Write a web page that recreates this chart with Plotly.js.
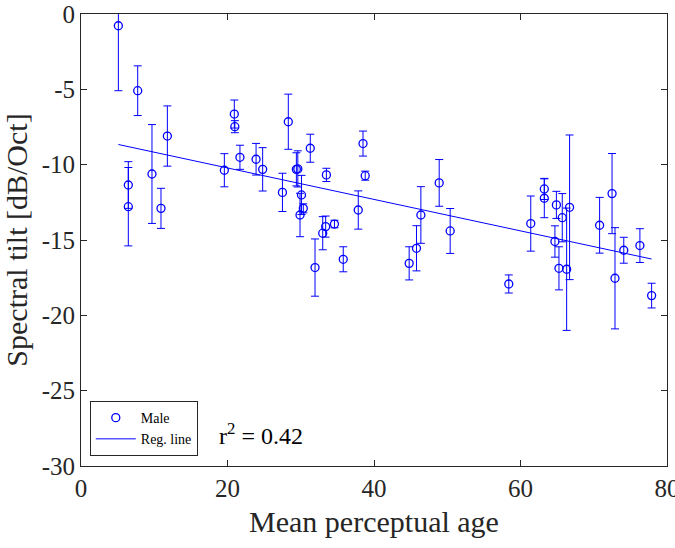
<!DOCTYPE html>
<html>
<head>
<meta charset="utf-8">
<script src="https://cdn.plot.ly/plotly-3.0.1.min.js"></script>
<style>
  html, body { margin: 0; padding: 0; background: #fff; }
  #chart { width: 675px; height: 548px; }
</style>
</head>
<body>
<div id="chart"></div>
<script>
// Mean perceptual age of each male speaker
const perceptualAge = [
  5.1, 7.74, 6.46, 6.46, 9.69, 10.92, 11.79, 19.57, 20.93, 21.0,
  21.7, 23.9, 24.8, 27.5, 28.3, 29.4, 29.6, 30.1, 30.35, 29.9,
  31.3, 31.95, 33.0, 33.4, 34.6, 33.5, 35.8, 37.85, 38.5, 38.8,
  48.9, 46.4, 45.8, 44.8, 50.4, 58.4, 61.4, 63.25, 63.25, 64.9,
  65.7, 64.7, 65.25, 66.3, 66.7, 70.8, 72.5, 72.9, 74.1, 76.3,
  77.9
];

// Spectral tilt in dB/Oct
const spectralTilt = [
  -0.78, -5.09, -11.35, -12.79, -10.62, -12.9, -8.1, -10.37, -6.64, -7.48,
  -9.51, -9.64, -10.31, -11.84, -7.15, -10.31, -10.28, -12.01, -12.9, -13.34,
  -8.91, -16.83, -14.55, -14.11, -13.94, -10.68, -16.28, -13.01, -8.6, -10.73,
  -11.21, -13.34, -15.55, -16.55, -14.4, -17.92, -13.91, -11.61, -12.23, -12.67,
  -13.52, -15.1, -16.88, -16.94, -12.83, -14.02, -11.92, -17.54, -15.68, -15.37,
  -18.69
];

// Error bar half-lengths (dB/Oct)
const tiltError = [
  4.31, 1.65, 1.55, 2.6, 3.28, 1.33, 2.0, 1.1, 0.93, 0.4,
  0.8, 1.05, 1.44, 1.27, 1.83, 1.1, 1.2, 1.3, 0.3, 1.44,
  0.93, 1.9, 1.1, 0.7, 0.25, 0.44, 0.83, 1.27, 0.83, 0.3,
  1.55, 1.88, 1.5, 1.1, 1.49, 0.6, 1.83, 0.7, 1.29, 0.9,
  1.6, 1.04, 1.43, 4.06, 4.8, 1.85, 2.66, 3.36, 0.86, 1.12,
  0.82
];

// Axis tick labels
const xTicks = [0, 20, 40, 60, 80];
const xTickText = ['0', '20', '40', '60', '80'];
const yTicks = [-30, -25, -20, -15, -10, -5, 0];
const yTickText = ['-30', '-25', '-20', '-15', '-10', '-5', '0'];

// Linear regression of tilt on perceptual age
const regIntercept = -8.13;
const regSlope = -0.1044;
const rSquared = 0.42;

const xMin = Math.min(...perceptualAge);
const xMax = Math.max(...perceptualAge);
const regX = [xMin, xMax];
const regY = regX.map(v => regIntercept + regSlope * v);

const blue = '#0000ff';
const serif = 'Liberation Serif';
const axisColor = '#262626';

const traces = [
  {
    type: 'scatter',
    mode: 'markers',
    name: 'Male',
    x: perceptualAge,
    y: spectralTilt,
    marker: { symbol: 'circle-open', size: 8, color: blue, line: { width: 1.3, color: blue } },
    error_y: { type: 'data', array: tiltError, visible: true, color: blue, thickness: 1, width: 4 }
  },
  {
    type: 'scatter',
    mode: 'lines',
    name: 'Reg. line',
    x: regX,
    y: regY,
    line: { color: blue, width: 1 }
  }
];

const layout = {
  width: 675,
  height: 548,
  margin: { l: 81, r: 8, t: 14, b: 82 },
  paper_bgcolor: '#fff',
  plot_bgcolor: '#fff',
  font: { family: serif, size: 24, color: axisColor },
  showlegend: true,
  legend: {
    x: 0.015, y: 0.022, xanchor: 'left', yanchor: 'bottom',
    bgcolor: '#fff', bordercolor: axisColor, borderwidth: 1,
    font: { family: serif, size: 14, color: '#000' },
    itemwidth: 40,
    tracegroupgap: 0
  },
  xaxis: {
    range: [0, 80],
    tickmode: 'array',
    tickvals: xTicks,
    ticktext: xTickText,
    ticklabeloverflow: 'allow',
    ticks: 'inside', ticklen: 6, tickcolor: axisColor,
    showline: true, linecolor: axisColor, linewidth: 1, mirror: 'ticks',
    showgrid: false, zeroline: false,
    tickfont: { family: serif, size: 25, color: axisColor },
    title: { text: 'Mean perceptual age', font: { family: serif, size: 30, color: axisColor }, standoff: 9 }
  },
  yaxis: {
    range: [-30, 0],
    tickmode: 'array',
    tickvals: yTicks,
    ticktext: yTickText,
    ticks: 'inside', ticklen: 6, tickcolor: axisColor,
    showline: true, linecolor: axisColor, linewidth: 1, mirror: 'ticks',
    showgrid: false, zeroline: false,
    tickfont: { family: serif, size: 25, color: axisColor },
    title: { text: 'Spectral tilt [dB/Oct]', font: { family: serif, size: 30, color: axisColor }, standoff: 8 }
  },
  annotations: [
    {
      xref: 'paper', yref: 'paper',
      x: 0.232, y: 0.07, xanchor: 'left', yanchor: 'middle',
      text: 'r<sup>2</sup> = ' + rSquared.toFixed(2),
      showarrow: false,
      font: { family: serif, size: 24, color: '#000' }
    }
  ]
};

Plotly.newPlot('chart', traces, layout, { staticPlot: true, displayModeBar: false });
</script>
</body>
</html>
